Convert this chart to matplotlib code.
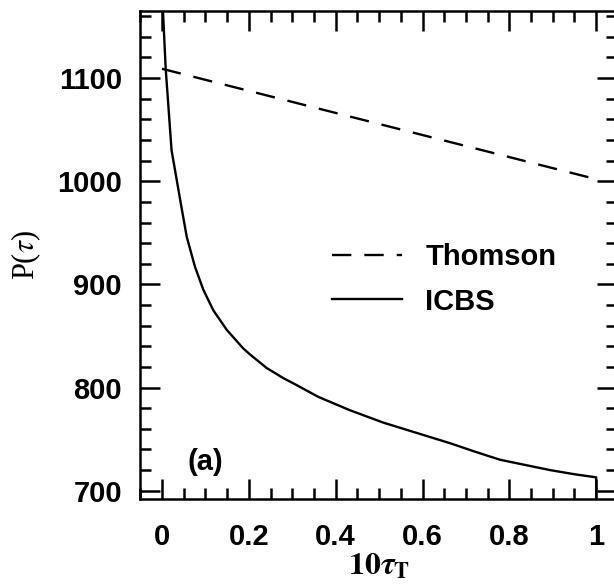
import matplotlib
matplotlib.use("Agg")
import matplotlib.pyplot as plt
from matplotlib.ticker import MultipleLocator

plt.rcParams["mathtext.fontset"] = "stix"

# Data
thomson_x = [0.0, 1.0]
thomson_y = [1109, 1002]

icbs_x = [0.0, 0.0005, 0.0085, 0.022, 0.034, 0.046, 0.057, 0.076, 0.095, 0.118,
          0.149, 0.187, 0.203, 0.241, 0.28, 0.303, 0.36, 0.433, 0.51, 0.587,
          0.664, 0.72, 0.779, 0.825, 0.894, 0.95, 1.0, 1.0]
icbs_y = [1250, 1180, 1109, 1030, 1001, 972, 946, 917, 895, 875,
          856, 838, 832, 819, 809, 804, 791, 778, 766, 756,
          746, 738, 730, 726, 720, 716, 713, 600]

xticks = [0, 0.2, 0.4, 0.6, 0.8, 1]
xticklabels = ["0", "0.2", "0.4", "0.6", "0.8", "1"]
yticks = [700, 800, 900, 1000, 1100]
yticklabels = ["700", "800", "900", "1000", "1100"]

W, H = 614, 588
fig = plt.figure(figsize=(W / 100, H / 100), dpi=100)
L, R, T, B = 140, 617, 11, 499
ax = fig.add_axes([L / W, 1 - B / H, (R - L) / W, (B - T) / H])

lw = 1.7
ax.plot(thomson_x, thomson_y, color="black", lw=lw, ls=(0, (8.2, 5.5)), label="Thomson")
ax.plot(icbs_x, icbs_y, color="black", lw=lw, ls="-", label="ICBS",
        solid_joinstyle="round")

ax.set_xlim(-0.0507, 1.048)
ax.set_ylim(692, 1165)

sans = "Liberation Sans"
fs = 21
ax.set_xticks(xticks)
ax.set_xticklabels(xticklabels, fontfamily=sans, fontweight="bold", fontsize=fs)
ax.set_yticks(yticks)
ax.set_yticklabels(yticklabels, fontfamily=sans, fontweight="bold", fontsize=fs)
ax.xaxis.set_minor_locator(MultipleLocator(0.05))
ax.yaxis.set_minor_locator(MultipleLocator(20))
ax.tick_params(which="both", direction="in", top=True, right=True, width=1.8)
ax.tick_params(which="major", length=14.5)
ax.tick_params(which="minor", length=8)
ax.tick_params(axis="x", which="major", pad=17)
ax.tick_params(axis="y", which="major", pad=13)
for s in ax.spines.values():
    s.set_linewidth(1.8)

ax.set_ylabel(r"P($\tau$)", fontfamily="Liberation Serif", fontsize=22, labelpad=10)
ax.set_xlabel(r"$\mathbf{10}\boldsymbol{\tau}_{\mathbf{T}}$", fontsize=23, labelpad=0)

ax.text(0.10, 728, "(a)", fontfamily=sans, fontweight="bold", fontsize=fs,
        ha="center", va="center")

leg = ax.legend(loc="center left", bbox_to_anchor=(0.4025, 0.4498), frameon=False,
                prop={"family": sans, "weight": "bold", "size": fs},
                handlelength=2.4, handletextpad=0.8, labelspacing=0.55,
                borderpad=0, borderaxespad=0)

fig.savefig("out.png", dpi=100)
